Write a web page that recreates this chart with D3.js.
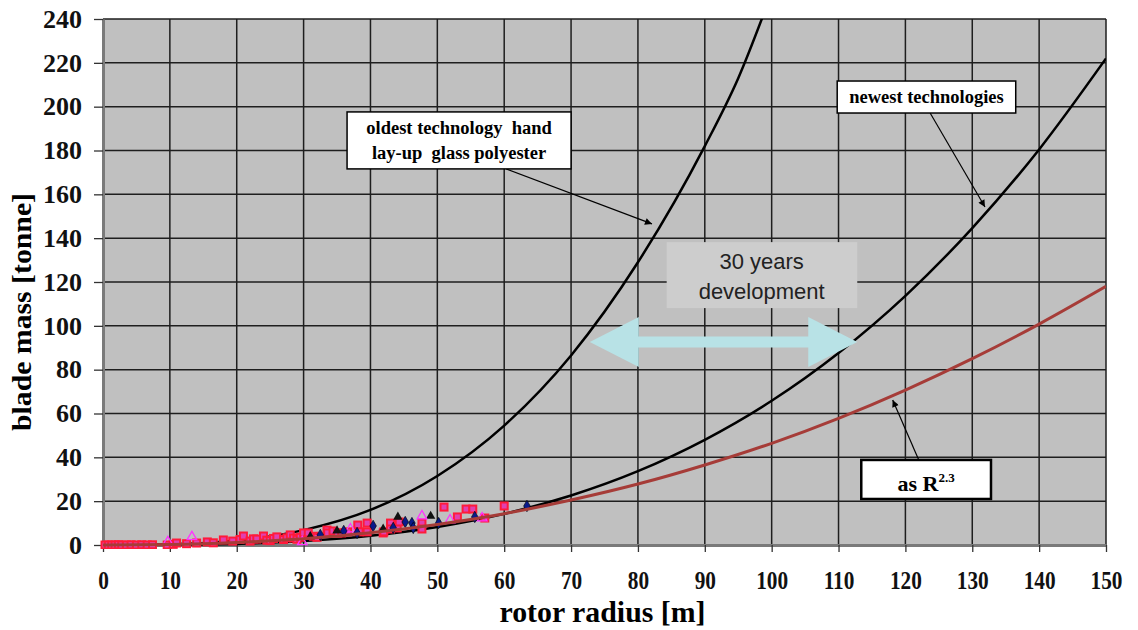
<!DOCTYPE html>
<html>
<head>
<meta charset="utf-8">
<script src="https://cdn.jsdelivr.net/npm/d3@7"></script>
<style>
  body { margin: 0; background: #fff; }
  svg { display: block; }
  .serif { font-family: "Liberation Serif", "Times New Roman", serif; font-weight: bold; }
</style>
</head>
<body>
<div id="chart"></div>
<script>

// tick values
var xTicks = d3.range(0, 151, 10);
var yTicks = d3.range(0, 241, 20);

// curves: [radius m, mass tonne]
var oldestCurve = [[0,0],[10,0.3],[20,2],[30,6.8],[40,16],[50,31.5],[60,54.5],[70,86.5],[80,129],[90,182],[95,213],[100,252]];
var newestCurve = [[0,0],[10,0.07],[20,0.5],[30,1.8],[40,4.2],[50,8.2],[60,14.2],[70,22.6],[80,33.7],[90,48],[100,65.8],[110,87.6],[120,113.7],[130,144.6],[140,180.5],[150,222]];
var powerCurve = [[0,0],[10,0.23],[20,1.15],[30,2.9],[40,5.6],[50,9.4],[60,14.3],[70,20.5],[80,27.8],[90,36.5],[100,46.4],[110,57.8],[120,70.7],[130,85],[140,100.8],[150,118]];

// measured blades
var redSquares = [[0.3,0],[0.8,0],[1.3,0],[1.8,0],[2.3,0.1],[2.8,0],[3.5,0],[4.2,0.1],[5,0],[5.8,0.1],[6.6,0],[7.4,0.1],
  [9.6,0],[10.5,0.3],[11,0.9],[12.5,0.6],[14,0.9],[15.6,1.4],[16.5,1],[18,2.3],[19.4,1.8],[20.5,2.5],[21,4.1],[22,1.8],
  [22.5,2.8],[23,2.7],[24,4.1],[24.5,2.2],[25,2],[25.5,3],[26,3.7],[27,2.5],[27.5,3.3],[28,4.6],[28.5,3.2],[29,2.6],
  [29.5,3.5],[30,5.5],[30.7,5.5],[31.5,4],[32,3.5],[33.5,6.8],[33.6,5.5],[34.4,6.4],[35.1,5.5],[35.7,5.5],[36.6,6],
  [38.1,9.1],[38.3,6],[39.5,10],[39.5,6],[41.9,5.5],[42,6],[43,10],[43,7.3],[44,7.8],[44.3,10.5],[47.7,10],[47.7,7.3],
  [51,17.3],[53,12.8],[54.3,16.4],[55.3,16.4],[57.1,12.3],[60,17.8]];
var blueDiamonds = [[32.5,4.6],[36,6.4],[38,5.5],[40.4,8.7],[43.4,7.8],[45.2,10.5],[46.2,10],[46.4,7.8],[50.2,10],[55.6,12.8],[63.4,17.8]];
var blackTriangles = [[31,3.9],[35,6.5],[41.9,7.3],[44.1,12.8],[49,13.2]];
var magentaTriangles = [[9.7,1.4],[13.3,3.7],[29.8,1.4],[37,7.3],[47.7,13.2],[51.9,11.4],[56.7,12.3]];

var width = 1138, height = 630;
var margin = {left: 103, right: 32, top: 19, bottom: 85};

var svg = d3.select('#chart').append('svg')
  .attr('width', width)
  .attr('height', height);

var x = d3.scaleLinear().domain([0, 150]).range([margin.left, width - margin.right]);
var y = d3.scaleLinear().domain([0, 240]).range([height - margin.bottom, margin.top]);

var defs = svg.append('defs');

defs.append('clipPath').attr('id', 'plot-clip')
  .append('rect')
  .attr('x', x(0) - 6).attr('y', y(240))
  .attr('width', x(150) - x(0) + 6).attr('height', y(0) - y(240) + 4);

defs.append('marker')
  .attr('id', 'head')
  .attr('viewBox', '0 0 10 10')
  .attr('refX', 10).attr('refY', 5)
  .attr('markerWidth', 9).attr('markerHeight', 7)
  .attr('markerUnits', 'userSpaceOnUse')
  .attr('orient', 'auto')
  .append('path').attr('d', 'M0,0L10,5L0,10Z').attr('fill', '#000');

// plot background
svg.append('rect')
  .attr('x', x(0)).attr('y', y(240))
  .attr('width', x(150) - x(0)).attr('height', y(0) - y(240))
  .attr('fill', '#c0c0c0');

// grid
svg.append('g').selectAll('line')
  .data(xTicks.slice(1))
  .enter().append('line')
  .attr('x1', function(d){ return x(d); }).attr('x2', function(d){ return x(d); })
  .attr('y1', y(0)).attr('y2', y(240))
  .attr('stroke', '#1e1e1e').attr('stroke-width', 1.5);

svg.append('g').selectAll('line')
  .data(yTicks.slice(1))
  .enter().append('line')
  .attr('x1', x(0)).attr('x2', x(150))
  .attr('y1', function(d){ return y(d); }).attr('y2', function(d){ return y(d); })
  .attr('stroke', '#1e1e1e').attr('stroke-width', 1.5);

// axes
var yAxis = svg.append('g')
  .attr('transform', 'translate(' + x(0) + ',0)')
  .call(d3.axisLeft(y).tickValues(yTicks).tickSize(9).tickSizeOuter(0).tickPadding(12));

var xAxis = svg.append('g')
  .attr('transform', 'translate(0,' + y(0) + ')')
  .call(d3.axisBottom(x).tickValues(xTicks).tickSize(7).tickSizeOuter(0).tickPadding(19));

[xAxis, yAxis].forEach(function(ax){
  ax.select('.domain').attr('stroke', '#7a7a7a').attr('stroke-width', 3);
  ax.selectAll('.tick line').attr('stroke', '#333').attr('stroke-width', 1.3);
  ax.selectAll('.tick text')
    .attr('class', 'serif')
    .attr('fill', '#111');
});

yAxis.selectAll('.tick text').style('font-size', '26px');
xAxis.selectAll('.tick text')
  .style('font-size', '26px')
  .attr('transform', 'scale(0.82,1)');

// axis titles
svg.append('text')
  .attr('class', 'serif')
  .attr('x', x(75) - 2).attr('y', 622)
  .attr('text-anchor', 'middle')
  .attr('textLength', 206).attr('lengthAdjust', 'spacingAndGlyphs')
  .style('font-size', '30px')
  .text('rotor radius [m]');

svg.append('text')
  .attr('class', 'serif')
  .attr('transform', 'translate(31,312) rotate(-90)')
  .attr('text-anchor', 'middle')
  .attr('textLength', 238).attr('lengthAdjust', 'spacingAndGlyphs')
  .style('font-size', '27px')
  .text('blade mass [tonne]');

// curves
var line = d3.line()
  .x(function(d){ return x(d[0]); })
  .y(function(d){ return y(d[1]); })
  .curve(d3.curveMonotoneX);

var plot = svg.append('g').attr('clip-path', 'url(#plot-clip)');

plot.append('path').datum(oldestCurve)
  .attr('d', line).attr('fill', 'none')
  .attr('stroke', '#000').attr('stroke-width', 2.5);

plot.append('path').datum(newestCurve)
  .attr('d', line).attr('fill', 'none')
  .attr('stroke', '#000').attr('stroke-width', 2.5);

// scatter
var pts = plot.append('g');

pts.selectAll('.sq')
  .data(redSquares)
  .enter().append('rect')
  .attr('class', 'sq')
  .attr('x', function(d){ return x(d[0]) - 3.5; })
  .attr('y', function(d){ return y(d[1]) - 3.5; })
  .attr('width', 7).attr('height', 7)
  .attr('fill', '#e040b0')
  .attr('stroke', '#ff1a3a').attr('stroke-width', 2);

pts.selectAll('.tri')
  .data(blackTriangles)
  .enter().append('path')
  .attr('class', 'tri')
  .attr('d', d3.symbol().type(d3.symbolTriangle).size(38))
  .attr('transform', function(d){ return 'translate(' + x(d[0]) + ',' + y(d[1]) + ')'; })
  .attr('fill', '#111');

pts.selectAll('.mtri')
  .data(magentaTriangles)
  .enter().append('path')
  .attr('class', 'mtri')
  .attr('d', d3.symbol().type(d3.symbolTriangle).size(40))
  .attr('transform', function(d){ return 'translate(' + x(d[0]) + ',' + y(d[1]) + ')'; })
  .attr('fill', 'none')
  .attr('stroke', '#ff33ff').attr('stroke-width', 1.3);

pts.selectAll('.dia')
  .data(blueDiamonds)
  .enter().append('path')
  .attr('class', 'dia')
  .attr('d', d3.symbol().type(d3.symbolDiamond).size(38))
  .attr('transform', function(d){ return 'translate(' + x(d[0]) + ',' + y(d[1]) + ')'; })
  .attr('fill', '#0a1a8a')
  .attr('stroke', '#000').attr('stroke-width', 0.6);

plot.append('path').datum(powerCurve)
  .attr('d', line).attr('fill', 'none')
  .attr('stroke', '#a63c38').attr('stroke-width', 3);

// "30 years development" label and double arrow
svg.append('rect')
  .attr('x', x(84.3)).attr('y', y(138.2))
  .attr('width', x(112.8) - x(84.3)).attr('height', y(108.1) - y(138.2))
  .attr('fill', '#cdcdcd');

svg.append('text')
  .attr('x', x(98.5)).attr('y', y(126))
  .attr('text-anchor', 'middle')
  .style('font-family', '"Liberation Sans", Arial, sans-serif')
  .style('font-size', '22px').attr('fill', '#222')
  .text('30 years');
svg.append('text')
  .attr('x', x(98.5)).attr('y', y(112.3))
  .attr('text-anchor', 'middle')
  .style('font-family', '"Liberation Sans", Arial, sans-serif')
  .style('font-size', '22px').attr('fill', '#222')
  .text('development');

var ax0 = x(72.8), ax1 = x(112.8), ay = y(92.6);
var headLen = 49, headHalf = 25, shaft = 5.5;
svg.append('path')
  .attr('d', 'M' + ax0 + ',' + ay +
    'L' + (ax0 + headLen) + ',' + (ay - headHalf) +
    'L' + (ax0 + headLen) + ',' + (ay - shaft) +
    'L' + (ax1 - headLen) + ',' + (ay - shaft) +
    'L' + (ax1 - headLen) + ',' + (ay - headHalf) +
    'L' + ax1 + ',' + ay +
    'L' + (ax1 - headLen) + ',' + (ay + headHalf) +
    'L' + (ax1 - headLen) + ',' + (ay + shaft) +
    'L' + (ax0 + headLen) + ',' + (ay + shaft) +
    'L' + (ax0 + headLen) + ',' + (ay + headHalf) + 'Z')
  .attr('fill', '#b8e2e6');

// call-out boxes
var notes = [
  {x0: 36.5, x1: 70, y0: 197.6, y1: 171.6, stroke: 1.5, lines: ['oldest technology  hand', 'lay-up  glass polyester'], from: [60.3, 171.6], to: [82.1, 146.5]},
  {x0: 109.8, x1: 136.5, y0: 211.7, y1: 197.1, stroke: 1.5, lines: ['newest technologies'], from: [123.7, 197.1], to: [131.9, 154.2]},
  {x0: 113.4, x1: 132.8, y0: 38.8, y1: 21, stroke: 2.5, lines: [], from: [122, 38.8], to: [118.1, 66.2]}
];

notes.forEach(function(n){
  svg.append('line')
    .attr('x1', x(n.from[0])).attr('y1', y(n.from[1]))
    .attr('x2', x(n.to[0])).attr('y2', y(n.to[1]))
    .attr('stroke', '#000').attr('stroke-width', 1.2)
    .attr('marker-end', 'url(#head)');

  svg.append('rect')
    .attr('x', x(n.x0)).attr('y', y(n.y0))
    .attr('width', x(n.x1) - x(n.x0)).attr('height', y(n.y1) - y(n.y0))
    .attr('fill', '#fff')
    .attr('stroke', '#000').attr('stroke-width', n.stroke);

  var cx = (x(n.x0) + x(n.x1)) / 2;
  var top = y(n.y0);
  n.lines.forEach(function(t, i){
    svg.append('text')
      .attr('class', 'serif')
      .attr('x', cx).attr('y', top + 22 + i * 25)
      .attr('text-anchor', 'middle')
      .style('font-size', '18.5px')
      .style('white-space', 'pre')
      .attr('xml:space', 'preserve')
      .text(t);
  });
});

var rt = svg.append('text')
  .attr('class', 'serif')
  .attr('x', (x(113.4) + x(132.8)) / 2).attr('y', y(38.8) + 31)
  .attr('text-anchor', 'middle')
  .style('font-size', '22px');
rt.append('tspan').text('as R');
rt.append('tspan').attr('dy', -9).style('font-size', '13px').text('2.3');

</script>
</body>
</html>
